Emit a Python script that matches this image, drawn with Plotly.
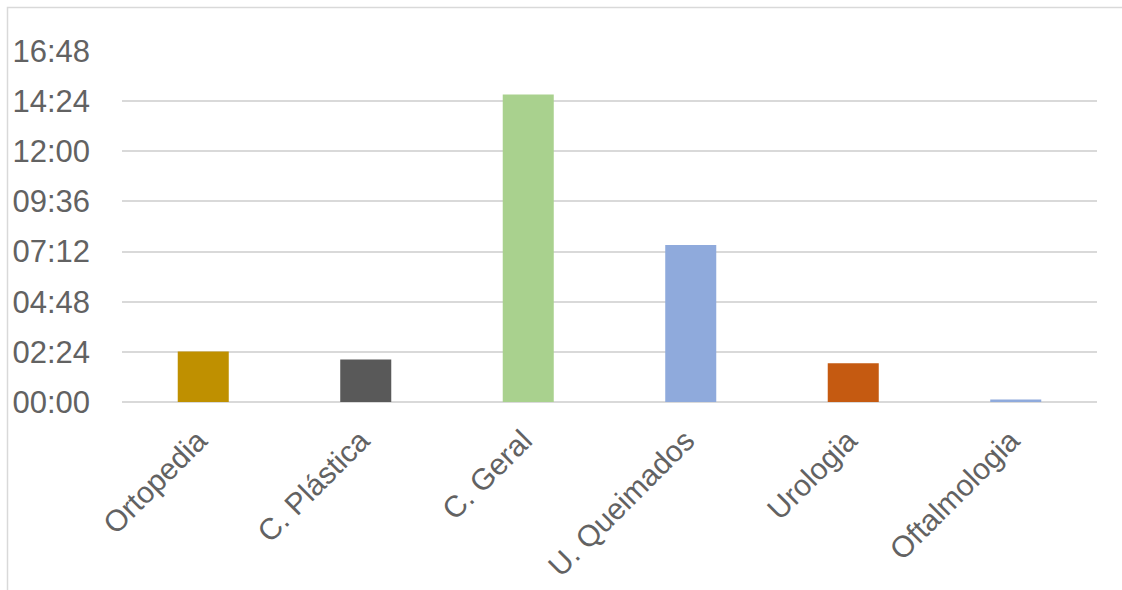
import plotly.graph_objects as go

# Surgical specialties and their time (minutes)
categories = ["Ortopedia", "C. Plástica", "C. Geral", "U. Queimados", "Urologia", "Oftalmologia"]
minutes = [145, 122, 883, 451, 111, 7]
bar_colors = ["#BF9000", "#595959", "#A9D18E", "#8FAADC", "#C55A11", "#8FAADC"]

# Y axis: every 2h24 (144 minutes)
tick_minutes = [0, 144, 288, 432, 576, 720, 864, 1008]
tick_labels = ["00:00", "02:24", "04:48", "07:12", "09:36", "12:00", "14:24", "16:48"]

label_color = "#626262"
grid_color = "#D9D9D9"
font_family = "Liberation Sans, Arial, sans-serif"

fig = go.Figure(
    go.Bar(
        x=categories,
        y=minutes,
        marker=dict(color=bar_colors, line=dict(width=0)),
        width=0.314,
        hoverinfo="x+y",
    )
)

fig.update_layout(
    width=1122,
    height=590,
    margin=dict(l=122, r=25, t=51, b=188, pad=0),
    paper_bgcolor="white",
    plot_bgcolor="white",
    showlegend=False,
    font=dict(family=font_family, color=label_color, size=30),
    xaxis=dict(
        tickangle=-45,
        showgrid=False,
        showline=False,
        ticks="",
        automargin=False,
        ticklabelstandoff=14,
        ticklabelshift=-5,
        tickfont=dict(size=30, color=label_color),
    ),
    yaxis=dict(
        range=[0, 1008],
        tickvals=tick_minutes,
        ticktext=tick_labels,
        showgrid=True,
        gridcolor=grid_color,
        gridwidth=1.5,
        zeroline=True,
        zerolinecolor=grid_color,
        zerolinewidth=1.5,
        showline=False,
        ticks="",
        automargin=False,
        ticklabelstandoff=31,
        tickfont=dict(size=31, color=label_color),
    ),
    shapes=[
        # chart-area frame (extends past the right and bottom edges)
        dict(
            type="rect",
            xref="paper",
            yref="paper",
            x0=(7.5 - 122) / 975,
            x1=1.1,
            y0=-0.7,
            y1=(402 - 7.5) / 351,
            line=dict(color=grid_color, width=1.5),
            fillcolor="rgba(0,0,0,0)",
            layer="below",
        )
    ],
)

fig.write_html("out.html")
